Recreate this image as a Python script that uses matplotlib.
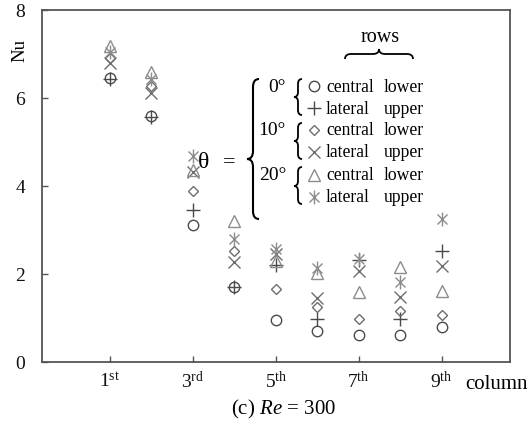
import matplotlib
matplotlib.use("Agg")
import matplotlib.pyplot as plt
from matplotlib.path import Path
from matplotlib.patches import PathPatch
from matplotlib.lines import Line2D
from matplotlib.transforms import Affine2D
import numpy as np

plt.rcParams['font.family'] = ['Liberation Serif', 'DejaVu Serif']
plt.rcParams['mathtext.fontset'] = 'custom'
plt.rcParams['mathtext.rm'] = 'Liberation Serif'
plt.rcParams['mathtext.it'] = 'Liberation Serif:italic'

# ---------------- data ----------------
columns = [1, 2, 3, 4, 5, 6, 7, 8, 9]
tick_cols = [1, 3, 5, 7, 9]
tick_labels = [r'1$^{\rm st}$', r'3$^{\rm rd}$', r'5$^{\rm th}$', r'7$^{\rm th}$', r'9$^{\rm th}$']

nu_0_central = [6.45, 5.58, 3.11, 1.71, 0.96, 0.70, 0.62, 0.62, 0.80]
nu_0_lateral = [6.43, 5.57, 3.46, 1.71, 2.20, 0.98, 2.32, 0.98, 2.53]
nu_10_central = [6.91, 6.28, 3.89, 2.52, 1.66, 1.26, 0.98, 1.17, 1.07]
nu_10_lateral = [6.80, 6.11, 4.31, 2.27, 2.46, 1.46, 2.06, 1.47, 2.19]
nu_20_central = [7.19, 6.58, 4.37, 3.21, 2.30, 2.03, 1.59, 2.16, 1.62]
nu_20_lateral = [7.04, 6.43, 4.69, 2.80, 2.57, 2.13, 2.34, 1.82, 3.25]

# asterisk marker: vertical bar + cross
ast = Path([(0, -1), (0, 1), (-0.72, -0.72), (0.72, 0.72), (-0.72, 0.72), (0.72, -0.72)],
           [Path.MOVETO, Path.LINETO, Path.MOVETO, Path.LINETO, Path.MOVETO, Path.LINETO])

dark = '#4a4a4a'
mid = '#6e6e6e'
light = '#8c8c8c'

styles = [
    (nu_0_central, dict(marker='o', ms=7.5, mfc='none', mec=dark, mew=1.0)),
    (nu_0_lateral, dict(marker='+', ms=10, mec=dark, mew=1.0)),
    (nu_10_central, dict(marker='D', ms=5.5, mfc='none', mec=mid, mew=1.0)),
    (nu_10_lateral, dict(marker='x', ms=8.5, mec=mid, mew=1.0)),
    (nu_20_central, dict(marker='^', ms=8.5, mfc='none', mec=light, mew=1.0)),
    (nu_20_lateral, dict(marker=ast, ms=10, mec=light, mew=1.0)),
]

W, H = 531, 427
fig = plt.figure(figsize=(W / 100, H / 100), dpi=100)
ax = fig.add_axes([41.6 / W, 1 - 363 / H, (510 - 41.6) / W, (363 - 11) / H])

for vals, st in styles:
    ax.plot(columns, vals, linestyle='none', **st)

ax.set_xlim(-0.65, 10.65)
ax.set_ylim(0, 8)
ax.set_xticks(tick_cols)
ax.set_xticklabels(tick_labels)
ax.set_yticks([0, 2, 4, 6, 8])
ax.tick_params(axis='both', direction='in', length=4, width=1.0, color='#555555',
               labelsize=14, labelcolor='#111111')
ax.tick_params(axis='y', pad=12)
ax.tick_params(axis='x', pad=6)
for sp in ax.spines.values():
    sp.set_color('#555555')
    sp.set_linewidth(1.3)

# pixel transform (origin top-left)
px = Affine2D().scale(1 / W, -1 / H).translate(0, 1) + fig.transFigure

fig.text(20, 50, 'Nu', transform=px, rotation=90, ha='center', va='center', fontsize=13.5)
fig.text(496, 385, 'column', transform=px, ha='center', va='center', fontsize=15)
fig.text(284, 409, r'(c) $Re$ = 300', transform=px, ha='center', va='center', fontsize=15)

# legend
rows_y = [87, 109, 131, 153, 176, 198]
labels = [('central', 'lower'), ('lateral', 'upper')] * 3
for (vals, st), y, (a, b) in zip(styles, rows_y, labels):
    fig.add_artist(Line2D([314], [y], transform=px, linestyle='none', **st))
    fig.text(326, y, a, transform=px, ha='left', va='center', fontsize=12.7)
    fig.text(384, y, b, transform=px, ha='left', va='center', fontsize=12.7)

fig.text(380, 38, 'rows', transform=px, ha='center', va='center', fontsize=14.5)
for lab, y in [('0°', 87), ('10°', 131), ('20°', 176)]:
    fig.text(286, y, lab, transform=px, ha='right', va='center', fontsize=14)
fig.text(204, 163, 'θ', transform=px, ha='center', va='center', fontsize=17)
fig.text(229, 163, '=', transform=px, ha='center', va='center', fontsize=16)


def vbrace(x, y0, y1, ym, h, d, lw=1.3):
    verts = [(x + h, y0), (x, y0), (x, y0 + d), (x, ym - d), (x, ym), (x - h, ym),
             (x, ym), (x, ym + d), (x, y1 - d), (x, y1), (x + h, y1)]
    codes = [Path.MOVETO, Path.CURVE3, Path.CURVE3, Path.LINETO, Path.CURVE3, Path.CURVE3,
             Path.CURVE3, Path.CURVE3, Path.LINETO, Path.CURVE3, Path.CURVE3]
    fig.add_artist(PathPatch(Path(verts, codes), transform=px, fill=False,
                             edgecolor='black', lw=lw))


def hbrace(x0, x1, y, xm, h, d, lw=1.3):
    verts = [(x0, y + h), (x0, y), (x0 + d, y), (xm - d, y), (xm, y), (xm, y - h),
             (xm, y), (xm + d, y), (x1 - d, y), (x1, y), (x1, y + h)]
    codes = [Path.MOVETO, Path.CURVE3, Path.CURVE3, Path.LINETO, Path.CURVE3, Path.CURVE3,
             Path.CURVE3, Path.CURVE3, Path.LINETO, Path.CURVE3, Path.CURVE3]
    fig.add_artist(PathPatch(Path(verts, codes), transform=px, fill=False,
                             edgecolor='black', lw=lw))


vbrace(253, 80, 220, 160, 6, 8, lw=1.5)
vbrace(298, 80, 116, 98, 4, 5)
vbrace(298, 124, 160, 142, 4, 5)
vbrace(298, 168, 205, 187, 4, 5)
hbrace(345, 413, 55, 379, 5, 6)

fig.savefig('out.png', dpi=100)
